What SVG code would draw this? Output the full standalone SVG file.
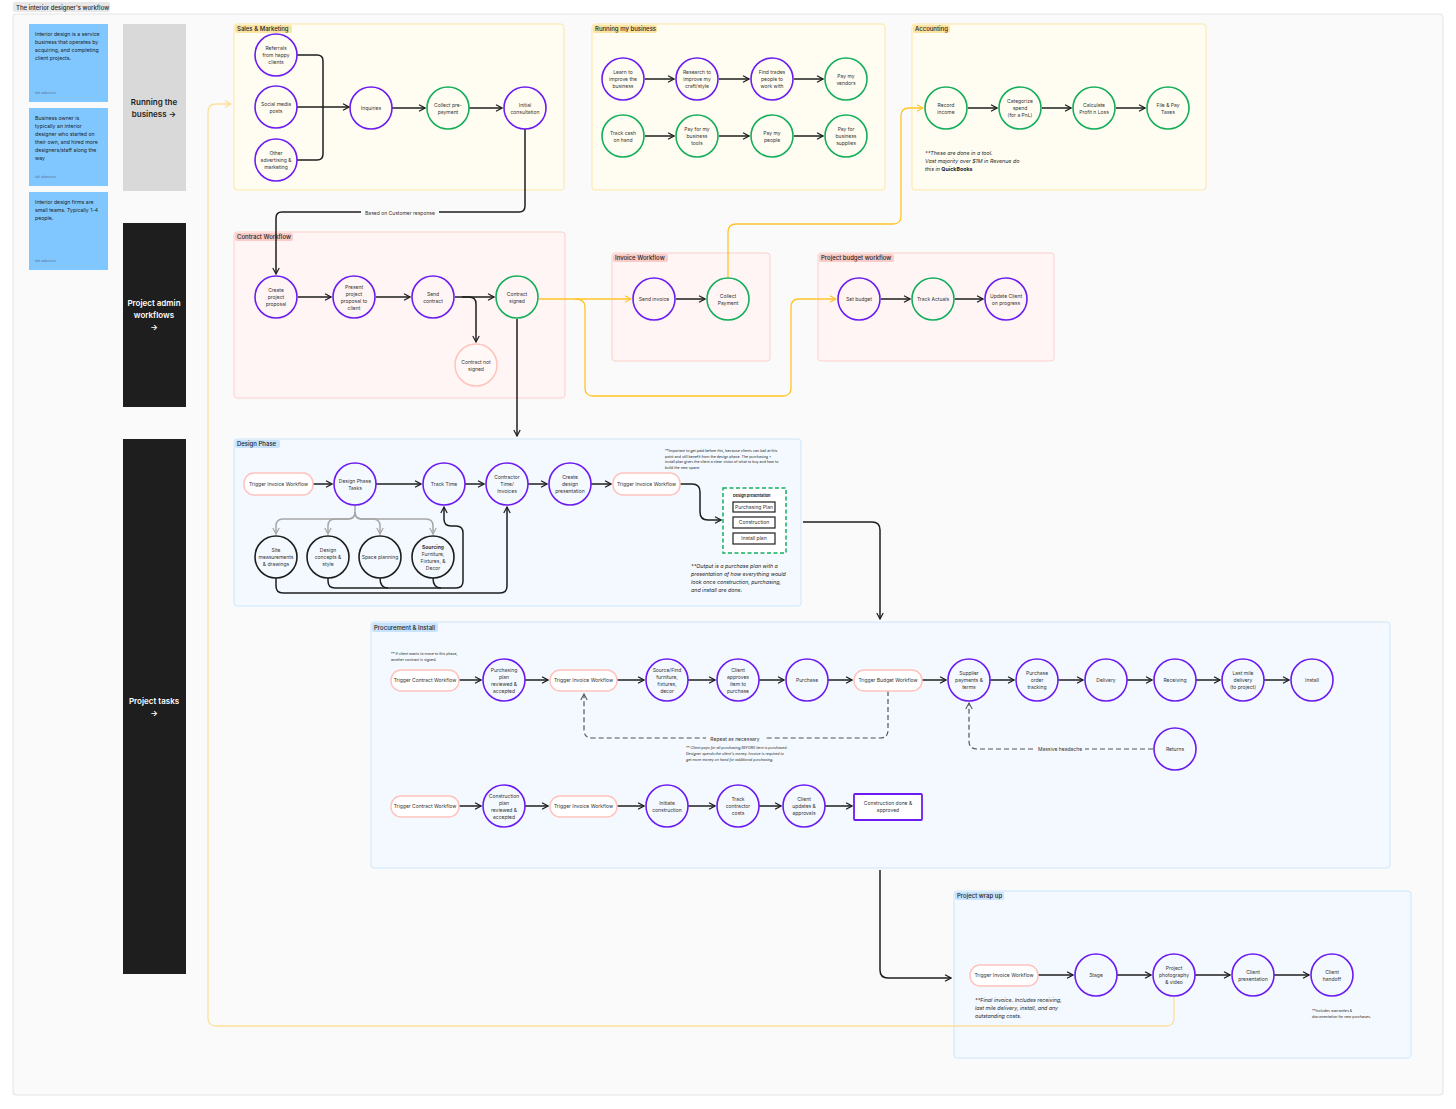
<svg xmlns="http://www.w3.org/2000/svg" width="1456" height="1109" viewBox="0 0 1456 1109">
<style>
.t{font-family:Inter,"Liberation Sans",sans-serif;font-size:5px;fill:#333;text-anchor:middle}
.tl{font-family:Inter,"Liberation Sans",sans-serif;fill:#1e1e1e}
.p{fill:none;stroke:#6c1cf2;stroke-width:1.6}
.g{fill:none;stroke:#14ae5c;stroke-width:1.6}
.k{fill:none;stroke:#1e1e1e;stroke-width:1.6}
.pk{fill:#fff;stroke:#ffc3bd;stroke-width:1.5}
.c{fill:none;stroke:#1e1e1e;stroke-width:1.5;marker-end:url(#ah)}
.cn{fill:none;stroke:#1e1e1e;stroke-width:1.5}
.cy{fill:none;stroke:#ffc526;stroke-width:1.3}
.cf{fill:none;stroke:#fde09a;stroke-width:1.3}
.cg{fill:none;stroke:#a6a6a6;stroke-width:1.5;marker-end:url(#ahg)}
.cd{fill:none;stroke:#555;stroke-width:1.2;stroke-dasharray:5 3;marker-end:url(#ahd)}
.sec-y{fill:#fffdf1;stroke:#fbe7a8;stroke-width:1}
.sec-r{fill:#fff5f4;stroke:#fcd0cc;stroke-width:1}
.sec-b{fill:#f3f9ff;stroke:#cde6fb;stroke-width:1}
.tag{font-family:Inter,"Liberation Sans",sans-serif;font-size:6px;font-weight:500;fill:#1e1e1e}
.note{font-family:Inter,"Liberation Sans",sans-serif;font-size:5.2px;fill:#1e1e1e}
.auth{font-family:Inter,"Liberation Sans",sans-serif;font-size:3.5px;fill:#5a7a99}
.it{font-family:Inter,"Liberation Sans",sans-serif;font-style:italic;fill:#1e1e1e}
.tiny{font-family:Inter,"Liberation Sans",sans-serif;font-size:3.6px;fill:#1e1e1e}
</style>
<defs>
<marker id="ah" viewBox="0 0 10 10" refX="9" refY="5" markerWidth="8" markerHeight="8" markerUnits="userSpaceOnUse" orient="auto"><path d="M1.5,1 L9,5 L1.5,9" fill="none" stroke="#1e1e1e" stroke-width="1.5"/></marker>
<marker id="ahy" viewBox="0 0 10 10" refX="9" refY="5" markerWidth="8" markerHeight="8" markerUnits="userSpaceOnUse" orient="auto"><path d="M1.5,1 L9,5 L1.5,9" fill="none" stroke="#ffc526" stroke-width="1.4"/></marker>
<marker id="ahf" viewBox="0 0 10 10" refX="9" refY="5" markerWidth="8" markerHeight="8" markerUnits="userSpaceOnUse" orient="auto"><path d="M1.5,1 L9,5 L1.5,9" fill="none" stroke="#fddc8a" stroke-width="1.4"/></marker>
<marker id="ahg" viewBox="0 0 10 10" refX="9" refY="5" markerWidth="8" markerHeight="8" markerUnits="userSpaceOnUse" orient="auto"><path d="M1.5,1 L9,5 L1.5,9" fill="none" stroke="#a6a6a6" stroke-width="1.5"/></marker>
<marker id="ahd" viewBox="0 0 10 10" refX="9" refY="5" markerWidth="8" markerHeight="8" markerUnits="userSpaceOnUse" orient="auto"><path d="M1.5,1 L9,5 L1.5,9" fill="none" stroke="#555" stroke-width="1.3"/></marker>
</defs>
<rect width="1456" height="1109" fill="#fff"/>
<!-- title and frame -->
<g id="title">
<rect x="13" y="2" width="97" height="10" rx="2" fill="#e8e8e8"/>
<text class="tl" x="16" y="9.5" font-size="6" font-weight="500">The interior designer's workflow</text>
</g>
<rect id="frame" x="13" y="14" width="1430" height="1081" rx="3" fill="#fafafa" stroke="#e4e4e4" stroke-width="1"/>

<!-- sticky notes -->
<g id="sticky-1">
<rect x="29" y="24" width="79" height="78" fill="#80c7ff"/>
<text class="note" x="35" y="36"><tspan x="35">Interior design is a service</tspan><tspan x="35" dy="8">business that operates by</tspan><tspan x="35" dy="8">acquiring, and completing</tspan><tspan x="35" dy="8">client projects.</tspan></text>
<text class="auth" x="35" y="94">dal adamson</text>
</g>
<g id="sticky-2">
<rect x="29" y="108" width="79" height="78" fill="#80c7ff"/>
<text class="note" x="35" y="120"><tspan x="35">Business owner is</tspan><tspan x="35" dy="8">typically an interior</tspan><tspan x="35" dy="8">designer who started on</tspan><tspan x="35" dy="8">their own, and hired more</tspan><tspan x="35" dy="8">designers/staff along the</tspan><tspan x="35" dy="8">way</tspan></text>
<text class="auth" x="35" y="178">dal adamson</text>
</g>
<g id="sticky-3">
<rect x="29" y="192" width="79" height="78" fill="#80c7ff"/>
<text class="note" x="35" y="204"><tspan x="35">Interior design firms are</tspan><tspan x="35" dy="8">small teams. Typically 1-4</tspan><tspan x="35" dy="8">people.</tspan></text>
<text class="auth" x="35" y="262">dal adamson</text>
</g>

<!-- side panels -->
<g id="panel-running">
<rect x="123" y="24" width="63" height="167" fill="#d9d9d9"/>
<text class="tl" font-size="8" font-weight="600" text-anchor="middle"><tspan x="154" y="105">Running the</tspan><tspan x="154" y="117">business →</tspan></text>
</g>
<g id="panel-admin">
<rect x="123" y="223" width="63" height="184" fill="#1e1e1e"/>
<text font-family="Inter,'Liberation Sans',sans-serif" fill="#fff" font-size="8" font-weight="600" text-anchor="middle"><tspan x="154" y="306">Project admin</tspan><tspan x="154" y="318">workflows</tspan><tspan x="154" y="330">→</tspan></text>
</g>
<g id="panel-tasks">
<rect x="123" y="439" width="63" height="535" fill="#1e1e1e"/>
<text font-family="Inter,'Liberation Sans',sans-serif" fill="#fff" font-size="8" font-weight="600" text-anchor="middle"><tspan x="154" y="704">Project tasks</tspan><tspan x="154" y="716">→</tspan></text>
</g>

<!-- sections -->
<g id="sec-sales"><rect class="sec-y" x="234" y="24" width="330" height="166" rx="3"/><rect x="235" y="25" width="57" height="8" rx="2" fill="#fde3a0"/><text class="tag" x="237" y="31.2">Sales &amp; Marketing</text></g>
<g id="sec-running"><rect class="sec-y" x="592" y="24" width="293" height="166" rx="3"/><rect x="593" y="25" width="64" height="8" rx="2" fill="#fde3a0"/><text class="tag" x="595" y="31.2">Running my business</text></g>
<g id="sec-accounting"><rect class="sec-y" x="912" y="24" width="294" height="166" rx="3"/><rect x="913" y="25" width="37" height="8" rx="2" fill="#fde3a0"/><text class="tag" x="915" y="31.2">Accounting</text></g>
<g id="sec-contract"><rect class="sec-r" x="234" y="232" width="331" height="166" rx="3"/><rect x="235" y="233" width="58" height="8" rx="2" fill="#fbcbc6"/><text class="tag" x="237" y="239.2">Contract Workflow</text></g>
<g id="sec-invoice"><rect class="sec-r" x="612" y="253" width="158" height="108" rx="3"/><rect x="613" y="254" width="55" height="8" rx="2" fill="#fbcbc6"/><text class="tag" x="615" y="260.2">Invoice Workflow</text></g>
<g id="sec-budget"><rect class="sec-r" x="818" y="253" width="236" height="108" rx="3"/><rect x="819" y="254" width="75" height="8" rx="2" fill="#fbcbc6"/><text class="tag" x="821" y="260.2">Project budget workflow</text></g>
<g id="sec-design"><rect class="sec-b" x="234" y="439" width="567" height="167" rx="3"/><rect x="235" y="440" width="45" height="8" rx="2" fill="#c8e3fb"/><text class="tag" x="237" y="446.2">Design Phase</text></g>
<g id="sec-procure"><rect class="sec-b" x="371" y="622" width="1019" height="246" rx="3"/><rect x="372" y="623" width="66" height="9" rx="2" fill="#c8e3fb"/><text class="tag" x="374" y="629.8">Procurement &amp; Install</text></g>
<g id="sec-wrap"><rect class="sec-b" x="954" y="891" width="457" height="167" rx="3"/><rect x="955" y="892" width="49" height="8" rx="2" fill="#c8e3fb"/><text class="tag" x="957" y="898.2">Project wrap up</text></g>

<!-- connectors -->
<g id="connectors">
<path class="cn" d="M297,55 H317 Q323,55 323,61 V108"/>
<path class="cn" d="M297,160 H317 Q323,160 323,154 V108"/>
<path class="c" d="M297,107 H349"/>
<path class="c" d="M392,108 H425"/>
<path class="c" d="M469,108 H502"/>
<path class="c" d="M525,129 V206 Q525,212 519,212 H282 Q276,212 276,218 V274"/>
<rect x="361" y="209" width="78" height="7" fill="#fafafa"/>
<text class="t" x="400" y="214.7" font-size="5.2">Based on Customer response</text>

<path class="c" d="M645,79 H674"/><path class="c" d="M719,79 H749"/><path class="c" d="M794,79 H823"/>
<path class="c" d="M645,136 H674"/><path class="c" d="M719,136 H749"/><path class="c" d="M794,136 H823"/>
<path class="c" d="M968,108 H997"/><path class="c" d="M1042,108 H1071"/><path class="c" d="M1116,108 H1145"/>

<path class="c" d="M298,297 H331"/><path class="c" d="M376,297 H410"/><path class="c" d="M455,297 H494"/>
<path class="c" d="M462,297 H469 Q476,297 476,304 V342"/>
<path class="c" d="M517,319 V436"/>
<path class="c" d="M676,299 H705"/>
<path class="c" d="M881,299 H910"/><path class="c" d="M955,299 H983"/>

<path class="cy" d="M539,299 H631" marker-end="url(#ahy)"/>
<path class="cy" d="M575,299 Q585,299 585,307 V388 Q585,396 593,396 H783 Q791,396 791,388 V307 Q791,299 799,299 H836" marker-end="url(#ahy)"/>
<path class="cy" d="M728,277 V232 Q728,224 736,224 H893 Q901,224 901,216 V116 Q901,108 909,108 H923" marker-end="url(#ahy)"/>
<path class="cf" d="M1174,997 V1018 Q1174,1026 1166,1026 H216 Q208,1026 208,1018 V112 Q208,104 216,104 H231" marker-end="url(#ahf)"/>

<path class="c" d="M313,484 H332"/><path class="c" d="M376,484 H421"/><path class="c" d="M465,484 H484"/>
<path class="c" d="M528,484 H547"/><path class="c" d="M591,484 H611"/>
<path class="c" d="M680,484 H692 Q700,484 700,492 V512 Q700,520 708,520 H721"/>
<path class="cg" d="M355,505 V512 Q355,519 348,519 H283 Q276,519 276,526 V534"/>
<path class="cg" d="M355,512 Q355,519 348,519 H335 Q328,519 328,526 V534"/>
<path class="cg" d="M355,512 Q355,519 362,519 H373 Q380,519 380,526 V534"/>
<path class="cg" d="M355,512 Q355,519 362,519 H426 Q433,519 433,526 V534"/>
<path class="c" d="M276,578 V586 Q276,593 283,593 H500 Q507,593 507,586 V507"/>
<path class="c" d="M328,578 V581 Q328,588 335,588 H456 Q463,588 463,581 V533 Q463,526 456,526 H451 Q444,526 444,519 V507"/>
<path class="cn" d="M380,578 Q380,588 388,588"/>
<path class="cn" d="M433,578 Q433,588 441,588"/>

<path class="c" d="M803,522 H872 Q880,522 880,530 V619"/>
<path class="c" d="M880,870 V970 Q880,978 888,978 H951"/>

<path class="c" d="M459,680 H481"/><path class="c" d="M525,680 H548"/><path class="c" d="M617,680 H644"/>
<path class="c" d="M688,680 H715"/><path class="c" d="M759,680 H784"/><path class="c" d="M828,680 H852"/>
<path class="c" d="M922,680 H946"/><path class="c" d="M990,680 H1014"/><path class="c" d="M1058,680 H1083"/>
<path class="c" d="M1127,680 H1152"/><path class="c" d="M1196,680 H1220"/><path class="c" d="M1264,680 H1289"/>
<path class="cd" d="M888,691 V730 Q888,738 880,738 H592 Q584,738 584,730 V694"/>
<rect x="706" y="734" width="58" height="8" fill="#f3f9ff"/>
<text class="t" x="735" y="740.5" font-size="5.5">Repeat as necessary</text>
<path class="cd" d="M1153,749 H977 Q969,749 969,741 V703"/>
<rect x="1036" y="745" width="49" height="8" fill="#f3f9ff"/>
<text class="t" x="1060" y="751" font-size="5.2">Massive headache</text>

<path class="c" d="M459,806 H481"/><path class="c" d="M525,806 H548"/><path class="c" d="M617,806 H644"/>
<path class="c" d="M688,806 H715"/><path class="c" d="M759,806 H781"/><path class="c" d="M825,806 H852"/>

<path class="c" d="M1038,975 H1073"/><path class="c" d="M1117,975 H1151"/><path class="c" d="M1195,975 H1230"/><path class="c" d="M1274,975 H1309"/>
</g>

<!-- Sales & Marketing nodes -->
<g id="n-referrals"><circle class="p" cx="276" cy="55" r="21"/><text class="t" y="50"><tspan x="276">Referrals</tspan><tspan x="276" dy="7">from happy</tspan><tspan x="276" dy="7">clients</tspan></text></g>
<g id="n-social"><circle class="p" cx="276" cy="107" r="21"/><text class="t" y="105.5"><tspan x="276">Social media</tspan><tspan x="276" dy="7">posts</tspan></text></g>
<g id="n-other"><circle class="p" cx="276" cy="160" r="21"/><text class="t" y="155"><tspan x="276">Other</tspan><tspan x="276" dy="7">advertising &amp;</tspan><tspan x="276" dy="7">marketing</tspan></text></g>
<g id="n-inquiries"><circle class="p" cx="371" cy="108" r="21"/><text class="t" x="371" y="110">Inquiries</text></g>
<g id="n-prepay"><circle class="g" cx="448" cy="108" r="21"/><text class="t" y="106.5"><tspan x="448">Collect pre-</tspan><tspan x="448" dy="7">payment</tspan></text></g>
<g id="n-consult"><circle class="p" cx="525" cy="108" r="21"/><text class="t" y="106.5"><tspan x="525">Initial</tspan><tspan x="525" dy="7">consultation</tspan></text></g>

<!-- Running my business -->
<g id="n-learn"><circle class="p" cx="623" cy="79" r="21"/><text class="t" y="74"><tspan x="623">Learn to</tspan><tspan x="623" dy="7">improve the</tspan><tspan x="623" dy="7">business</tspan></text></g>
<g id="n-research"><circle class="p" cx="697" cy="79" r="21"/><text class="t" y="74"><tspan x="697">Research to</tspan><tspan x="697" dy="7">improve my</tspan><tspan x="697" dy="7">craft/style</tspan></text></g>
<g id="n-trades"><circle class="p" cx="772" cy="79" r="21"/><text class="t" y="74"><tspan x="772">Find trades</tspan><tspan x="772" dy="7">people to</tspan><tspan x="772" dy="7">work with</tspan></text></g>
<g id="n-vendors"><circle class="g" cx="846" cy="79" r="21"/><text class="t" y="77.5"><tspan x="846">Pay my</tspan><tspan x="846" dy="7">vendors</tspan></text></g>
<g id="n-cash"><circle class="g" cx="623" cy="136" r="21"/><text class="t" y="134.5"><tspan x="623">Track cash</tspan><tspan x="623" dy="7">on hand</tspan></text></g>
<g id="n-tools"><circle class="g" cx="697" cy="136" r="21"/><text class="t" y="131"><tspan x="697">Pay for my</tspan><tspan x="697" dy="7">business</tspan><tspan x="697" dy="7">tools</tspan></text></g>
<g id="n-people"><circle class="g" cx="772" cy="136" r="21"/><text class="t" y="134.5"><tspan x="772">Pay my</tspan><tspan x="772" dy="7">people</tspan></text></g>
<g id="n-supplies"><circle class="g" cx="846" cy="136" r="21"/><text class="t" y="131"><tspan x="846">Pay for</tspan><tspan x="846" dy="7">business</tspan><tspan x="846" dy="7">supplies</tspan></text></g>

<!-- Accounting -->
<g id="n-record"><circle class="g" cx="946" cy="108" r="21"/><text class="t" y="106.5"><tspan x="946">Record</tspan><tspan x="946" dy="7">income</tspan></text></g>
<g id="n-categorize"><circle class="g" cx="1020" cy="108" r="21"/><text class="t" y="103"><tspan x="1020">Categorize</tspan><tspan x="1020" dy="7">spend</tspan><tspan x="1020" dy="7">(for a PnL)</tspan></text></g>
<g id="n-pnl"><circle class="g" cx="1094" cy="108" r="21"/><text class="t" y="106.5"><tspan x="1094">Calculate</tspan><tspan x="1094" dy="7">Profit n Loss</tspan></text></g>
<g id="n-taxes"><circle class="g" cx="1168" cy="108" r="21"/><text class="t" y="106.5"><tspan x="1168">File &amp; Pay</tspan><tspan x="1168" dy="7">Taxes</tspan></text></g>
<g id="note-accounting"><text class="it" font-size="5.3" x="925" y="155"><tspan x="925">**These are done in a tool.</tspan><tspan x="925" dy="8">Vast majority over $1M in Revenue do</tspan><tspan x="925" dy="8">this in <tspan font-weight="700" font-style="normal">QuickBooks</tspan></tspan></text></g>

<!-- Contract workflow -->
<g id="n-create-proposal"><circle class="p" cx="276" cy="297" r="21"/><text class="t" y="292"><tspan x="276">Create</tspan><tspan x="276" dy="7">project</tspan><tspan x="276" dy="7">proposal</tspan></text></g>
<g id="n-present-proposal"><circle class="p" cx="354" cy="297" r="21"/><text class="t" y="288.5"><tspan x="354">Present</tspan><tspan x="354" dy="7">project</tspan><tspan x="354" dy="7">proposal to</tspan><tspan x="354" dy="7">client</tspan></text></g>
<g id="n-send-contract"><circle class="p" cx="433" cy="297" r="21"/><text class="t" y="295.5"><tspan x="433">Send</tspan><tspan x="433" dy="7">contract</tspan></text></g>
<g id="n-contract-signed"><circle class="g" cx="517" cy="297" r="21"/><text class="t" y="295.5"><tspan x="517">Contract</tspan><tspan x="517" dy="7">signed</tspan></text></g>
<g id="n-contract-not-signed"><circle cx="476" cy="365" r="21" fill="#fff8f7" stroke="#ffc3bd" stroke-width="1.5"/><text class="t" y="363.5"><tspan x="476">Contract not</tspan><tspan x="476" dy="7">signed</tspan></text></g>

<!-- Invoice workflow -->
<g id="n-send-invoice"><circle class="p" cx="654" cy="299" r="21"/><text class="t" x="654" y="301">Send invoice</text></g>
<g id="n-collect-payment"><circle class="g" cx="728" cy="299" r="21"/><text class="t" y="297.5"><tspan x="728">Collect</tspan><tspan x="728" dy="7">Payment</tspan></text></g>

<!-- Budget workflow -->
<g id="n-set-budget"><circle class="p" cx="859" cy="299" r="21"/><text class="t" x="859" y="301">Set budget</text></g>
<g id="n-track-actuals"><circle class="g" cx="933" cy="299" r="21"/><text class="t" x="933" y="301">Track Actuals</text></g>
<g id="n-update-client"><circle class="p" cx="1006" cy="299" r="21"/><text class="t" y="297.5"><tspan x="1006">Update Client</tspan><tspan x="1006" dy="7">on progress</tspan></text></g>

<!-- Design phase -->
<g id="n-dp-trigger-invoice"><rect class="pk" x="244" y="473" width="69" height="22" rx="10"/><text class="t" x="278.5" y="486">Trigger Invoice Workflow</text></g>
<g id="n-dp-tasks"><circle class="p" cx="355" cy="484" r="21"/><text class="t" y="482.5"><tspan x="355">Design Phase</tspan><tspan x="355" dy="7">Tasks</tspan></text></g>
<g id="n-track-time"><circle class="p" cx="444" cy="484" r="21"/><text class="t" x="444" y="486">Track Time</text></g>
<g id="n-contractor-time"><circle class="p" cx="507" cy="484" r="21"/><text class="t" y="479"><tspan x="507">Contractor</tspan><tspan x="507" dy="7">Time/</tspan><tspan x="507" dy="7">Invoices</tspan></text></g>
<g id="n-create-presentation"><circle class="p" cx="570" cy="484" r="21"/><text class="t" y="479"><tspan x="570">Create</tspan><tspan x="570" dy="7">design</tspan><tspan x="570" dy="7">presentation</tspan></text></g>
<g id="n-dp-trigger-invoice-2"><rect class="pk" x="613" y="473" width="67" height="22" rx="10"/><text class="t" x="646.5" y="486">Trigger Invoice Workflow</text></g>
<g id="n-site"><circle class="k" cx="276" cy="557" r="21"/><text class="t" y="552"><tspan x="276">Site</tspan><tspan x="276" dy="7">measurements</tspan><tspan x="276" dy="7">&amp; drawings</tspan></text></g>
<g id="n-concepts"><circle class="k" cx="328" cy="557" r="21"/><text class="t" y="552"><tspan x="328">Design</tspan><tspan x="328" dy="7">concepts &amp;</tspan><tspan x="328" dy="7">style</tspan></text></g>
<g id="n-space"><circle class="k" cx="380" cy="557" r="21"/><text class="t" x="380" y="559">Space planning</text></g>
<g id="n-sourcing"><circle class="k" cx="433" cy="557" r="21"/><text class="t" y="548.5"><tspan x="433" font-weight="700">Sourcing</tspan><tspan x="433" dy="7">Furniture,</tspan><tspan x="433" dy="7">Fixtures, &amp;</tspan><tspan x="433" dy="7">Decor</tspan></text></g>
<g id="n-design-presentation">
<rect x="723" y="488" width="63" height="65" fill="#fff" stroke="#14ae5c" stroke-width="1.5" stroke-dasharray="4 2.5"/>
<text class="tl" x="733" y="497" font-size="3.8" font-weight="700">Design presentation</text>
<rect x="733" y="502" width="42" height="10" fill="#fff" stroke="#1e1e1e" stroke-width="1.2"/><text class="t" x="754" y="508.5" font-size="4">Purchasing Plan</text>
<rect x="733" y="517" width="42" height="11" fill="#fff" stroke="#1e1e1e" stroke-width="1.2"/><text class="t" x="754" y="524" font-size="4">Construction</text>
<rect x="733" y="533" width="42" height="11" fill="#fff" stroke="#1e1e1e" stroke-width="1.2"/><text class="t" x="754" y="540" font-size="4">Install plan</text>
</g>
<g id="note-design-important"><text class="tiny" x="665" y="452"><tspan x="665">**Important to get paid before this, because clients can bail at this</tspan><tspan x="665" dy="5.5">point and still benefit from the design phase. The purchasing +</tspan><tspan x="665" dy="5.5">install plan gives the client a clear vision of what to buy and how to</tspan><tspan x="665" dy="5.5">build the new space.</tspan></text></g>
<g id="note-design-output"><text class="it" font-size="5.3" x="691" y="568"><tspan x="691">**Output is a purchase plan with a</tspan><tspan x="691" dy="8">presentation of how everything would</tspan><tspan x="691" dy="8">look once construction, purchasing,</tspan><tspan x="691" dy="8">and install are done.</tspan></text></g>

<!-- Procurement row 1 -->
<g id="note-procure-contract"><text class="tiny" x="391" y="655"><tspan x="391">** If client wants to move to this phase,</tspan><tspan x="391" dy="6">another contract is signed.</tspan></text></g>
<g id="n-pr-trigger-contract"><rect class="pk" x="391" y="670" width="68" height="21" rx="10"/><text class="t" x="425" y="682">Trigger Contract Workflow</text></g>
<g id="n-purchasing-plan"><circle class="p" cx="504" cy="680" r="21"/><text class="t" y="671.5"><tspan x="504">Purchasing</tspan><tspan x="504" dy="7">plan</tspan><tspan x="504" dy="7">reviewed &amp;</tspan><tspan x="504" dy="7">accepted</tspan></text></g>
<g id="n-pr-trigger-invoice"><rect class="pk" x="550" y="670" width="67" height="21" rx="10"/><text class="t" x="583.5" y="682">Trigger Invoice Workflow</text></g>
<g id="n-source"><circle class="p" cx="667" cy="680" r="21"/><text class="t" y="671.5"><tspan x="667">Source/Find</tspan><tspan x="667" dy="7">furniture,</tspan><tspan x="667" dy="7">fixtures,</tspan><tspan x="667" dy="7">decor</tspan></text></g>
<g id="n-client-approves"><circle class="p" cx="738" cy="680" r="21"/><text class="t" y="671.5"><tspan x="738">Client</tspan><tspan x="738" dy="7">approves</tspan><tspan x="738" dy="7">item to</tspan><tspan x="738" dy="7">purchase</tspan></text></g>
<g id="n-purchase"><circle class="p" cx="807" cy="680" r="21"/><text class="t" x="807" y="682">Purchase</text></g>
<g id="n-pr-trigger-budget"><rect class="pk" x="854" y="670" width="68" height="21" rx="10"/><text class="t" x="888" y="682">Trigger Budget Workflow</text></g>
<g id="n-supplier"><circle class="p" cx="969" cy="680" r="21"/><text class="t" y="675"><tspan x="969">Supplier</tspan><tspan x="969" dy="7">payments &amp;</tspan><tspan x="969" dy="7">terms</tspan></text></g>
<g id="n-po-tracking"><circle class="p" cx="1037" cy="680" r="21"/><text class="t" y="675"><tspan x="1037">Purchase</tspan><tspan x="1037" dy="7">order</tspan><tspan x="1037" dy="7">tracking</tspan></text></g>
<g id="n-delivery"><circle class="p" cx="1106" cy="680" r="21"/><text class="t" x="1106" y="682">Delivery</text></g>
<g id="n-receiving"><circle class="p" cx="1175" cy="680" r="21"/><text class="t" x="1175" y="682">Receiving</text></g>
<g id="n-last-mile"><circle class="p" cx="1243" cy="680" r="21"/><text class="t" y="675"><tspan x="1243">Last mile</tspan><tspan x="1243" dy="7">delivery</tspan><tspan x="1243" dy="7">(to project)</tspan></text></g>
<g id="n-install"><circle class="p" cx="1312" cy="680" r="21"/><text class="t" x="1312" y="682">Install</text></g>
<g id="n-returns"><circle class="p" cx="1175" cy="749" r="21"/><text class="t" x="1175" y="751">Returns</text></g>
<g id="note-procure-pays"><text class="tiny" font-style="italic" x="686" y="749"><tspan x="686">** Client pays for all purchasing BEFORE item is purchased.</tspan><tspan x="686" dy="6">Designer spends the client's money. Invoice is required to</tspan><tspan x="686" dy="6">get more money on hand for additional purchasing.</tspan></text></g>

<!-- Procurement row 2 -->
<g id="n-pr-trigger-contract-2"><rect class="pk" x="391" y="796" width="68" height="21" rx="10"/><text class="t" x="425" y="808">Trigger Contract Workflow</text></g>
<g id="n-construction-plan"><circle class="p" cx="504" cy="806" r="21"/><text class="t" y="797.5"><tspan x="504">Construction</tspan><tspan x="504" dy="7">plan</tspan><tspan x="504" dy="7">reviewed &amp;</tspan><tspan x="504" dy="7">accepted</tspan></text></g>
<g id="n-pr-trigger-invoice-2"><rect class="pk" x="550" y="796" width="67" height="21" rx="10"/><text class="t" x="583.5" y="808">Trigger Invoice Workflow</text></g>
<g id="n-initiate"><circle class="p" cx="667" cy="806" r="21"/><text class="t" y="804.5"><tspan x="667">Initiate</tspan><tspan x="667" dy="7">construction</tspan></text></g>
<g id="n-track-contractor"><circle class="p" cx="738" cy="806" r="21"/><text class="t" y="801"><tspan x="738">Track</tspan><tspan x="738" dy="7">contractor</tspan><tspan x="738" dy="7">costs</tspan></text></g>
<g id="n-client-updates"><circle class="p" cx="804" cy="806" r="21"/><text class="t" y="801"><tspan x="804">Client</tspan><tspan x="804" dy="7">updates &amp;</tspan><tspan x="804" dy="7">approvals</tspan></text></g>
<g id="n-construction-done"><rect x="854" y="794" width="68" height="26" rx="1" fill="#fff" stroke="#6c1cf2" stroke-width="1.8"/><text class="t" y="804.5"><tspan x="888">Construction done &amp;</tspan><tspan x="888" dy="7">approved</tspan></text></g>

<!-- Wrap up -->
<g id="n-wr-trigger-invoice"><rect class="pk" x="970" y="965" width="68" height="21" rx="10"/><text class="t" x="1004" y="977">Trigger Invoice Workflow</text></g>
<g id="n-stage"><circle class="p" cx="1096" cy="975" r="21"/><text class="t" x="1096" y="977">Stage</text></g>
<g id="n-photo"><circle class="p" cx="1174" cy="975" r="21"/><text class="t" y="970"><tspan x="1174">Project</tspan><tspan x="1174" dy="7">photography</tspan><tspan x="1174" dy="7">&amp; video</tspan></text></g>
<g id="n-client-presentation"><circle class="p" cx="1253" cy="975" r="21"/><text class="t" y="973.5"><tspan x="1253">Client</tspan><tspan x="1253" dy="7">presentation</tspan></text></g>
<g id="n-handoff"><circle class="p" cx="1332" cy="975" r="21"/><text class="t" y="973.5"><tspan x="1332">Client</tspan><tspan x="1332" dy="7">handoff</tspan></text></g>
<g id="note-final-invoice"><text class="it" font-size="5.3" x="975" y="1002"><tspan x="975">**Final invoice. Includes receiving,</tspan><tspan x="975" dy="8">last mile delivery, install, and any</tspan><tspan x="975" dy="8">outstanding costs.</tspan></text></g>
<g id="note-warranties"><text class="tiny" x="1312" y="1012"><tspan x="1312">**Includes warranties &amp;</tspan><tspan x="1312" dy="5.5">documentation for new purchases.</tspan></text></g>
</svg>
